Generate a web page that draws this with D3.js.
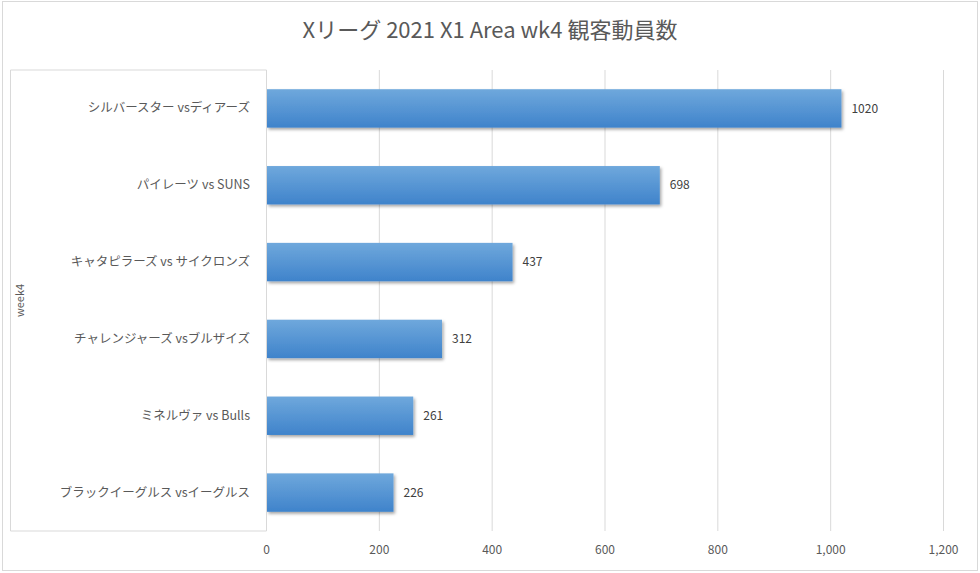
<!DOCTYPE html>
<html><head><meta charset="utf-8">
<script src="https://cdn.jsdelivr.net/npm/d3@7"></script>
<style>
body{margin:0;background:#fff;}
text{font-family:"Noto Sans CJK JP","Noto Sans",sans-serif;}
</style></head>
<body><div id="canvas"></div>
<script>
// data
var categories = ['シルバースター vsディアーズ','パイレーツ vs SUNS','キャタピラーズ vs サイクロンズ',
  'チャレンジャーズ vsブルザイズ','ミネルヴァ vs Bulls','ブラックイーグルス vsイーグルス'];
var values = [1020, 698, 437, 312, 261, 226];
var xTicks = [0, 200, 400, 600, 800, 1000, 1200];
var groupLabel = 'week4';
var title = 'Xリーグ 2021 X1 Area wk4 観客動員数';

var W = 980, H = 573;
var m = {t:70, r:37, b:42, l:266};
var w = W - m.l - m.r, h = H - m.t - m.b;

var svg = d3.select('#canvas').append('svg').attr('width', W).attr('height', H);
svg.append('rect').attr('x',2.5).attr('y',1.5).attr('width',W-5).attr('height',H-4)
  .attr('fill','#fff').attr('stroke','#d9d9d9');

var defs = svg.append('defs');
var grad = defs.append('linearGradient').attr('id','bg').attr('x1',0).attr('y1',0).attr('x2',0).attr('y2',1);
grad.append('stop').attr('offset','0%').attr('stop-color','#6fa8dc');
grad.append('stop').attr('offset','100%').attr('stop-color','#3f83cb');
var f = defs.append('filter').attr('id','sh').attr('x','-10%').attr('y','-20%').attr('width','130%').attr('height','160%');
f.append('feDropShadow').attr('dx',1.5).attr('dy',2).attr('stdDeviation',1.5).attr('flood-color','#000').attr('flood-opacity',0.35);

svg.append('text').attr('x', W/2).attr('y', 38).attr('text-anchor','middle')
  .attr('font-size',22).attr('fill','#595959').text(title);

var plot = svg.append('g').attr('transform','translate(' + m.l + ',' + m.t + ')');

var x = d3.scaleLinear().domain([0,1200]).range([0,w]);
var y = d3.scaleBand().domain(categories).range([0,h]).paddingInner(0.5).paddingOuter(0.25);

// gridlines + x axis
var ax = d3.axisBottom(x).tickValues(xTicks).tickSize(-h).tickPadding(14);
var gx = plot.append('g').attr('transform','translate(0,' + h + ')').call(ax);
gx.select('.domain').remove();
gx.selectAll('line').attr('stroke','#d9d9d9');
gx.selectAll('text').attr('fill','#595959').attr('font-size',12);

// category group box
svg.append('path')
  .attr('d','M' + (m.l+0.5) + ',' + m.t + 'V' + (m.t+h) + 'H10.5V' + m.t + 'H' + (m.l+0.5))
  .attr('fill','none').attr('stroke','#d9d9d9');
svg.append('text').attr('transform','translate(24,' + (m.t + h/2) + ') rotate(-90)')
  .attr('text-anchor','middle').attr('font-size',11).attr('fill','#595959').text(groupLabel);

// y labels
var ay = d3.axisLeft(y).tickSize(0).tickPadding(16);
var gy = plot.append('g').call(ay);
gy.select('.domain').remove();
gy.selectAll('text').attr('fill','#595959').attr('font-size',12.5);

// bars
plot.selectAll('rect.bar').data(values).enter().append('rect')
  .attr('class','bar')
  .attr('x', 1)
  .attr('y', function(d,i){ return y(categories[i]); })
  .attr('width', function(d){ return x(d) - 1; })
  .attr('height', y.bandwidth())
  .attr('fill','url(#bg)').attr('filter','url(#sh)');

plot.selectAll('text.lbl').data(values).enter().append('text')
  .attr('class','lbl')
  .attr('x', function(d){ return x(d) + 10; })
  .attr('y', function(d,i){ return y(categories[i]) + y.bandwidth()/2; })
  .attr('dy','0.35em').attr('font-size',12).attr('fill','#404040')
  .text(function(d){ return d; });
</script></body></html>
